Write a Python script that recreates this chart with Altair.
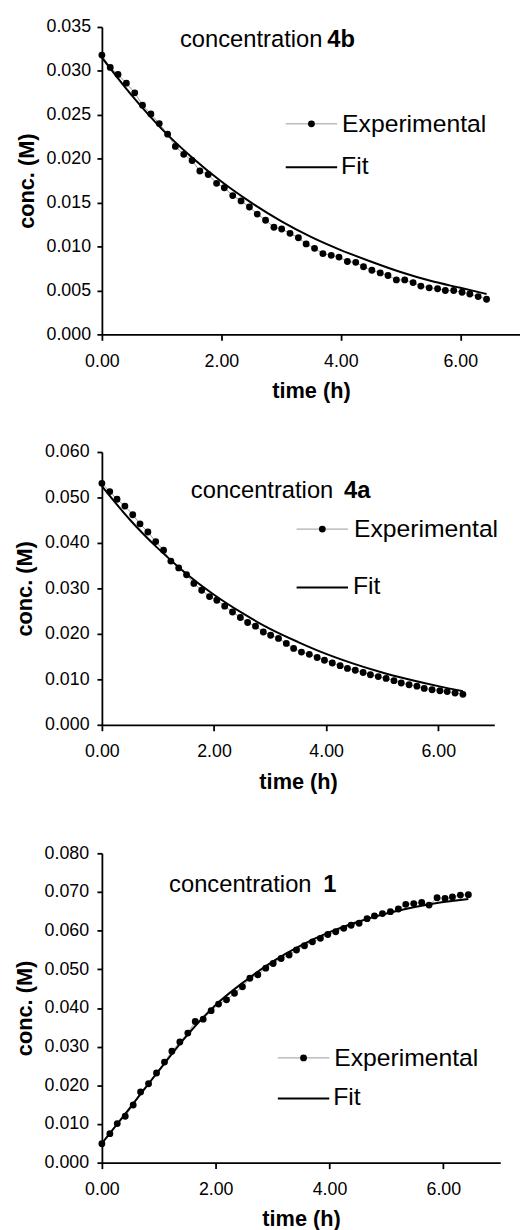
import altair as alt
import pandas as pd

# ---------------- data ----------------
TIME_H = [0.00, 0.14, 0.27, 0.41, 0.55, 0.68, 0.82, 0.96, 1.10, 1.23,
          1.37, 1.51, 1.64, 1.78, 1.92, 2.05, 2.19, 2.33, 2.47, 2.60,
          2.74, 2.88, 3.01, 3.15, 3.29, 3.42, 3.56, 3.70, 3.84, 3.97,
          4.11, 4.25, 4.38, 4.52, 4.66, 4.79, 4.93, 5.07, 5.21, 5.34,
          5.48, 5.62, 5.75, 5.89, 6.03, 6.16, 6.30, 6.44]

CONC_4B = [0.0318, 0.0304, 0.0296, 0.0286, 0.0275, 0.0261, 0.0251, 0.0240, 0.0228, 0.0214,
           0.0205, 0.0198, 0.0186, 0.0182, 0.0172, 0.0167, 0.0158, 0.0152, 0.0145, 0.0137,
           0.0130, 0.0122, 0.0120, 0.0115, 0.0110, 0.0103, 0.0098, 0.0092, 0.0090, 0.0088,
           0.0083, 0.0082, 0.0077, 0.0073, 0.0070, 0.0067, 0.0062, 0.0062, 0.0059, 0.0055,
           0.0053, 0.0052, 0.0050, 0.0050, 0.0048, 0.0046, 0.0043, 0.0040]

CONC_4A = [0.0531, 0.0513, 0.0496, 0.0481, 0.0462, 0.0442, 0.0424, 0.0403, 0.0384, 0.0360,
           0.0345, 0.0330, 0.0311, 0.0296, 0.0282, 0.0274, 0.0261, 0.0248, 0.0236, 0.0225,
           0.0217, 0.0204, 0.0197, 0.0190, 0.0179, 0.0168, 0.0160, 0.0155, 0.0148, 0.0142,
           0.0136, 0.0130, 0.0124, 0.0120, 0.0115, 0.0110, 0.0106, 0.0102, 0.0097, 0.0092,
           0.0088, 0.0085, 0.0080, 0.0077, 0.0075, 0.0073, 0.0070, 0.0067]

CONC_1 = [0.0049, 0.0075, 0.0101, 0.0120, 0.0149, 0.0183, 0.0204, 0.0232, 0.0260, 0.0288,
          0.0312, 0.0335, 0.0365, 0.0371, 0.0393, 0.0410, 0.0421, 0.0438, 0.0455, 0.0477,
          0.0486, 0.0503, 0.0515, 0.0528, 0.0537, 0.0550, 0.0561, 0.0571, 0.0580, 0.0590,
          0.0597, 0.0606, 0.0614, 0.0619, 0.0631, 0.0638, 0.0644, 0.0649, 0.0656, 0.0668,
          0.0670, 0.0673, 0.0666, 0.0685, 0.0683, 0.0687, 0.0692, 0.0693]

FIT_TIME_H = [0.0, 0.5, 1.0, 1.5, 2.0, 2.5, 3.0, 3.5, 4.0, 4.5, 5.0, 5.5, 6.0, 6.44]
FIT_4B = [0.0315, 0.0272, 0.0234, 0.0202, 0.0174, 0.0150, 0.0129, 0.0111, 0.0096, 0.0083,
          0.0071, 0.0061, 0.0053, 0.0046]
FIT_4A = [0.0525, 0.0451, 0.0388, 0.0333, 0.0286, 0.0246, 0.0211, 0.0182, 0.0156, 0.0134,
          0.0115, 0.0099, 0.0085, 0.0074]
FIT_1 = [0.0050, 0.0143, 0.0238, 0.0330, 0.0408, 0.0468, 0.0520, 0.0562, 0.0596, 0.0623,
         0.0644, 0.0661, 0.0674, 0.0682]

X_TICKS = [0, 2, 4, 6]
Y_TICKS_4B = [0.000, 0.005, 0.010, 0.015, 0.020, 0.025, 0.030, 0.035]
Y_TICKS_4A = [0.000, 0.010, 0.020, 0.030, 0.040, 0.050, 0.060]
Y_TICKS_1 = [0.000, 0.010, 0.020, 0.030, 0.040, 0.050, 0.060, 0.070, 0.080]

SERIES_LABELS = ["Experimental", "Fit"]
X_TITLE = "time (h)"
Y_TITLE = "conc. (M)"

FONT = "Liberation Sans"


def one_row():
    return pd.DataFrame({"k": [0]})


def panel(conc, fit, yticks, width, height, bold, ann, leg, ylabpad):
    exp_df = pd.DataFrame({"t": TIME_H, "c": conc})
    fit_df = pd.DataFrame({"t": FIT_TIME_H, "c": fit})

    x = alt.X("t:Q", scale=alt.Scale(domain=[0, 7], nice=False, zero=False),
              axis=alt.Axis(values=X_TICKS, format=".2f", title=X_TITLE))
    y = alt.Y("c:Q", scale=alt.Scale(domain=[yticks[0], yticks[-1]], nice=False),
              axis=alt.Axis(values=yticks, format=".3f", title=Y_TITLE,
                            labelPadding=ylabpad))

    exp_line = alt.Chart(exp_df).mark_line(color="#9a9a9a", strokeWidth=1).encode(x=x, y=y)
    exp_pts = alt.Chart(exp_df).mark_circle(size=48, color="black", opacity=1).encode(x=x, y=y)
    fit_line = alt.Chart(fit_df).mark_line(color="black", strokeWidth=2,
                                            interpolate="monotone").encode(x=x, y=y)

    ann_a = alt.Chart(one_row()).mark_text(
        text="concentration", align="left", baseline="middle", font=FONT,
        fontSize=24, color="black").encode(x=alt.value(ann[0]), y=alt.value(ann[2]))
    ann_b = alt.Chart(one_row()).mark_text(
        text=bold, align="left", baseline="middle", font=FONT, fontWeight="bold",
        fontSize=24, color="black").encode(x=alt.value(ann[1]), y=alt.value(ann[2]))

    # legend
    (lx1, lx2, ly1, ly2, ltx) = leg
    leg_rule1 = alt.Chart(one_row()).mark_rule(color="#9a9a9a", strokeWidth=1).encode(
        x=alt.value(lx1), x2=alt.value(lx2), y=alt.value(ly1))
    leg_pt = alt.Chart(one_row()).mark_circle(size=48, color="black", opacity=1).encode(
        x=alt.value((lx1 + lx2) / 2), y=alt.value(ly1))
    leg_txt1 = alt.Chart(one_row()).mark_text(
        text=SERIES_LABELS[0], align="left", baseline="middle", font=FONT, fontSize=25,
        color="black").encode(x=alt.value(ltx), y=alt.value(ly1))
    leg_rule2 = alt.Chart(one_row()).mark_rule(color="black", strokeWidth=2).encode(
        x=alt.value(lx1), x2=alt.value(lx2), y=alt.value(ly2))
    leg_txt2 = alt.Chart(one_row()).mark_text(
        text=SERIES_LABELS[1], align="left", baseline="middle", font=FONT, fontSize=25,
        color="black").encode(x=alt.value(ltx - 1), y=alt.value(ly2 - 1))

    return alt.layer(exp_line, exp_pts, fit_line, ann_a, ann_b,
                     leg_rule1, leg_pt, leg_txt1, leg_rule2, leg_txt2).properties(
        width=width, height=height)


p1 = panel(CONC_4B, FIT_4B, Y_TICKS_4B, 423, 311, "4b",
           (79, 228, 13), (186, 238, 98, 142, 243), 6.5)
p2 = panel(CONC_4A, FIT_4A, Y_TICKS_4A, 397, 276, "4a",
           (90, 245, 40), (197, 249, 78, 137, 255), 8)
p3 = panel(CONC_1, FIT_1, Y_TICKS_1, 403, 313, "1",
           (68, 224, 32), (178, 230, 207, 248, 235), 8.5)

inner = alt.vconcat(p1, p2, spacing=42).resolve_scale(x="independent", y="independent")
chart = alt.vconcat(inner, p3, spacing=53).resolve_scale(
    x="independent", y="independent"
).properties(
    padding={"left": 5, "top": 3, "right": 0, "bottom": 0}
).configure_view(stroke=None).configure_axis(
    grid=False,
    domainColor="black", domainWidth=1.8,
    tickColor="black", tickWidth=1.8, tickSize=5,
    labelColor="black", labelFont=FONT, labelFontSize=18, labelFlush=False,
    titleColor="black", titleFont=FONT, titleFontSize=22, titleFontWeight="bold",
).configure_axisX(
    tickSize=6, labelPadding=12, titlePadding=11,
).configure_axisY(
    titlePadding=8,
)

chart.save("out.html", embed_options={"renderer": "svg", "actions": False})
